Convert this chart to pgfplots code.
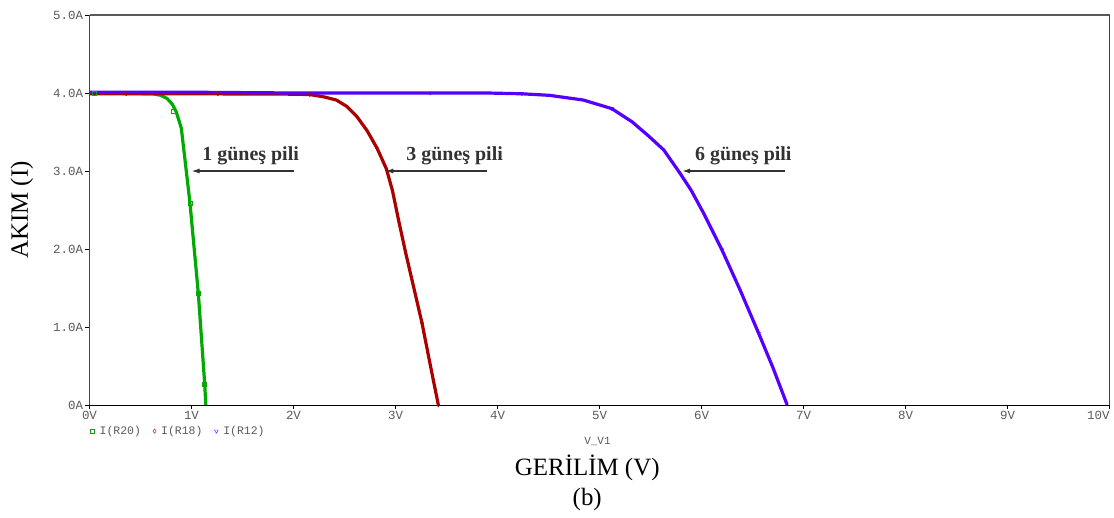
\documentclass[border=0pt]{standalone}
\usepackage{fontspec}
\setmainfont{Liberation Serif}
\newfontfamily\monof{Liberation Mono}
\usepackage{pgfplots}
\pgfplotsset{compat=1.18}
\usetikzlibrary{arrows.meta}
\definecolor{cgreen}{RGB}{0,170,0}
\definecolor{cred}{RGB}{170,0,0}
\definecolor{cblue}{RGB}{85,0,255}
\definecolor{tickgray}{RGB}{90,90,90}
\definecolor{anngray}{RGB}{50,50,50}
\begin{document}
\begin{tikzpicture}
\path[use as bounding box] (0,0) rectangle (1114bp,518bp);
\begin{axis}[
  at={(89.5bp,113bp)}, anchor=south west,
  width=1020bp, height=390bp, scale only axis,
  xmin=0, xmax=10, ymin=0, ymax=5,
  clip=false,
  axis line style={draw=none},
  xtick={0,1,...,10},
  xticklabels={0V,1V,2V,3V,4V,5V,6V,7V,8V,9V,\makebox[0pt][r]{10V}},
  ytick={0,1,2,3,4,5},
  yticklabels={0A,1.0A,2.0A,3.0A,4.0A,5.0A},
  xtick pos=bottom, ytick pos=left,
  tick align=outside, major tick length=4bp,
  tick style={black, line width=0.8bp},
  ticklabel style={font=\monof\fontsize{12.5}{14}\selectfont, text=tickgray},
  xticklabel style={yshift=1bp},
  yticklabel style={xshift=1bp},
  legend style={at={(rel axis cs:0,0)}, anchor=north west, xshift=-2bp, yshift=-17bp,
    draw=none, fill=none, legend columns=-1,
    font=\monof\fontsize{11.5}{12}\selectfont, text=tickgray,
    /tikz/every odd column/.append style={column sep=3bp},
    /tikz/every even column/.append style={column sep=10bp}},
  legend cell align=left,
]
\draw[line width=1.6bp, gray!55!black] (rel axis cs:0,0) -- (rel axis cs:0,1);
\draw[line width=1.2bp, gray!70!black] (rel axis cs:0,1) -- (rel axis cs:1,1);
\draw[line width=1.2bp, gray!50!black] (rel axis cs:1,1) -- (rel axis cs:1,0);
\draw[line width=1bp, black] (rel axis cs:0,0) -- (rel axis cs:1,0);

\addlegendimage{only marks, mark=square, mark size=2bp, cgreen}
\addlegendentry{I(R20)}
\addlegendimage{only marks, mark=diamond, mark size=2.2bp, cred}
\addlegendentry{I(R18)}
\addlegendimage{only marks, mark=triangle, mark options={rotate=180}, mark size=2.2bp, cblue}
\addlegendentry{I(R12)}

% 1 cell
\addplot[forget plot, cgreen, line width=3.2bp, line join=round] coordinates {
(0,4.0) (0.62,3.99) (0.70,3.97) (0.76,3.93) (0.81,3.86) (0.85,3.76) (0.90,3.55)
(0.94,3.10) (0.985,2.59) (1.067,1.43) (1.13,0.26) (1.14,0)};
% 3 cells
\addplot[forget plot, cred, line width=3.2bp, line join=round] coordinates {
(0,3.99) (1.0,3.99) (2.0,3.985) (2.16,3.98) (2.30,3.95) (2.42,3.91) (2.52,3.83)
(2.62,3.70) (2.72,3.52) (2.82,3.29) (2.91,3.03) (2.97,2.75) (3.03,2.37) (3.10,1.95)
(3.18,1.50) (3.26,1.05) (3.34,0.52) (3.42,0)};
% 6 cells
\addplot[forget plot, cblue, line width=3.2bp, line join=round] coordinates {
(0,4.01) (1,4.01) (2,4.0) (3,4.0) (3.9,4.0) (4.24,3.99) (4.51,3.97) (4.84,3.91)
(5.12,3.80) (5.32,3.63) (5.48,3.45) (5.63,3.27) (5.79,2.97) (5.90,2.75) (6.02,2.46)
(6.20,1.99) (6.38,1.47) (6.56,0.92) (6.70,0.48) (6.84,0)};

% markers
\addplot[forget plot, only marks, mark=square, mark size=2bp, cgreen, line width=0.8bp] coordinates {
(0.05,4.0) (0.82,3.76) (0.985,2.59) (1.067,1.43) (1.13,0.26)};
\addplot[forget plot, only marks, mark=diamond*, mark size=2bp, cred] coordinates {
(0.36,3.99) (1.26,3.99) (2.16,3.98) (2.82,3.29) (3.26,1.05) (3.42,0)};
\addplot[forget plot, only marks, mark=triangle*, mark options={rotate=180}, mark size=2bp, cblue] coordinates {
(1.55,4.01) (3.34,4.0) (4.24,3.99) (5.12,3.80) (6.20,1.99) (6.56,0.92)};

% annotations
\draw[-{Latex[length=8bp,width=5bp]}, line width=1.2bp, anngray] (axis cs:2.0,3.0) -- (axis cs:1.0,3.0);
\draw[-{Latex[length=8bp,width=5bp]}, line width=1.2bp, anngray] (axis cs:3.9,3.0) -- (axis cs:2.9,3.0);
\draw[-{Latex[length=8bp,width=5bp]}, line width=1.2bp, anngray] (axis cs:6.82,3.0) -- (axis cs:5.81,3.0);
\node[font=\bfseries\fontsize{20}{24}\selectfont, text=anngray] at (axis cs:1.58,3.2) {1 güneş pili};
\node[font=\bfseries\fontsize{20}{24}\selectfont, text=anngray] at (axis cs:3.58,3.2) {3 güneş pili};
\node[font=\bfseries\fontsize{20}{24}\selectfont, text=anngray] at (axis cs:6.41,3.2) {6 güneş pili};

% axis labels
\node[font=\monof\fontsize{11}{12}\selectfont, text=tickgray] at ([yshift=-36bp]rel axis cs:0.498,0) {V\_V1};
\node[font=\fontsize{25}{28}\selectfont] at ([yshift=-63bp]rel axis cs:0.488,0) {GERİLİM (V)};
\node[font=\fontsize{25}{28}\selectfont] at ([yshift=-95bp]rel axis cs:0.488,0) {(b)};
\node[font=\fontsize{25}{28}\selectfont, rotate=90] at ([xshift=-67.5bp]rel axis cs:0,0.5) {AKIM (I)};
\end{axis}
\end{tikzpicture}
\end{document}
